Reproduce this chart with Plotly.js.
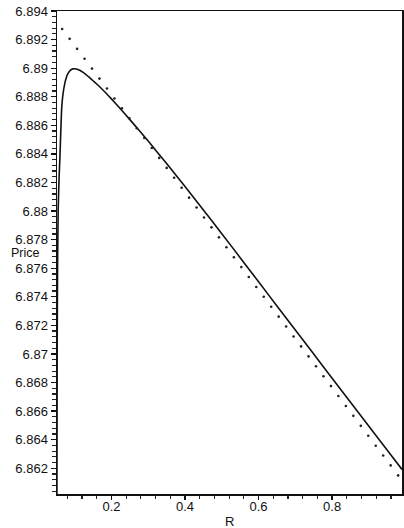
<!DOCTYPE html>
<html>
<head>
<meta charset="utf-8">
<script src="https://cdn.plot.ly/plotly-3.0.1.min.js"></script>
<style>html,body{margin:0;padding:0;background:#fff;}#chart{width:404px;height:528px;}</style>
</head>
<body>
<div id="chart"></div>
<script>
// Solid curve (Price vs R)
const solidR = [0.0518, 0.0525, 0.0535, 0.0552, 0.0575, 0.0600, 0.0625, 0.0645, 0.0680, 0.0735, 0.0775, 0.0816, 0.0860, 0.0900, 0.0950, 0.1000, 0.1070, 0.1140, 0.1220, 0.1300, 0.1400, 0.1500, 0.1600, 0.1700, 0.1850, 0.2000, 0.2200, 0.2500, 0.2750, 0.3000, 0.3500, 0.4000, 0.4500, 0.5000, 0.5500, 0.6000, 0.6500, 0.7000, 0.7500, 0.8000, 0.8500, 0.9000, 0.9500, 0.9900];
const solidP = [6.8602, 6.8700, 6.8760, 6.8801, 6.8822, 6.8838, 6.8857, 6.8871, 6.88813, 6.88897, 6.88935, 6.88961, 6.88979, 6.88989, 6.88995, 6.88996, 6.88993, 6.88985, 6.88972, 6.88957, 6.88935, 6.88912, 6.88889, 6.88865, 6.88826, 6.88785, 6.88728, 6.88640, 6.88566, 6.88490, 6.88332, 6.88172, 6.88008, 6.87842, 6.87674, 6.87505, 6.87336, 6.87167, 6.86999, 6.86830, 6.86662, 6.86494, 6.86326, 6.86192];
// Dotted series
const dotR = [0.066, 0.0863, 0.1066, 0.1269, 0.1472, 0.1675, 0.1878, 0.2081, 0.2284, 0.2487, 0.269, 0.2893, 0.3096, 0.3299, 0.3502, 0.3705, 0.3908, 0.4111, 0.4314, 0.4517, 0.472, 0.4923, 0.5126, 0.5329, 0.5532, 0.5735, 0.5938, 0.6141, 0.6344, 0.6547, 0.675, 0.6953, 0.7156, 0.7359, 0.7562, 0.7765, 0.7968, 0.8171, 0.8374, 0.8577, 0.878, 0.8983, 0.9186, 0.9389, 0.9592, 0.9795];
const dotP = [6.89274, 6.89205, 6.89135, 6.89066, 6.88997, 6.88927, 6.88858, 6.88788, 6.88719, 6.88649, 6.88580, 6.88511, 6.88441, 6.88372, 6.88302, 6.88233, 6.88163, 6.88094, 6.88025, 6.87955, 6.87886, 6.87816, 6.87747, 6.87677, 6.87608, 6.87539, 6.87469, 6.87400, 6.87330, 6.87261, 6.87192, 6.87122, 6.87053, 6.86983, 6.86914, 6.86844, 6.86775, 6.86706, 6.86636, 6.86567, 6.86497, 6.86428, 6.86358, 6.86289, 6.86220, 6.86150];
const xTitle = 'R';
const yTitle = 'Price';

const font = {family: 'Liberation Sans, Arial, sans-serif', size: 13, color: '#111'};

const traces = [
  {x: solidR, y: solidP, mode: 'lines', line: {color: '#111', width: 1.6, shape: 'spline', smoothing: 0.4}, hoverinfo: 'skip'},
  {x: dotR, y: dotP, mode: 'markers', marker: {color: '#222', size: 2.6}, hoverinfo: 'skip'}
];

const layout = {
  width: 404, height: 528,
  margin: {l: 57, r: 2, t: 11, b: 34},
  paper_bgcolor: '#fff', plot_bgcolor: '#fff',
  showlegend: false,
  font: font,
  xaxis: {
    range: [0.052, 0.99], showgrid: false, zeroline: false,
    showline: true, linecolor: '#111', linewidth: 1.5, mirror: true,
    tickmode: 'linear', tick0: 0, dtick: 0.2,
    ticks: 'outside', ticklen: 4, tickwidth: 1.3, tickcolor: '#111',
    ticklabelstandoff: -4,
    minor: {ticks: 'outside', dtick: 0.04, tick0: 0, ticklen: 3, tickwidth: 1.2, tickcolor: '#222', showgrid: false},
    tickfont: font
  },
  yaxis: {
    range: [6.8602, 6.894], showgrid: false, zeroline: false,
    showline: true, linecolor: '#111', linewidth: 1.5, mirror: true,
    tickmode: 'linear', tick0: 6.862, dtick: 0.002,
    ticks: 'outside', ticklen: 5, tickwidth: 1.3, tickcolor: '#111',
    minor: {ticks: 'outside', dtick: 0.0004, tick0: 6.862, ticklen: 4, tickwidth: 1.2, tickcolor: '#222', showgrid: false},
    tickfont: font
  },
  annotations: [
    {text: yTitle, xref: 'paper', yref: 'paper', x: -0.136, y: 0.5, xanchor: 'left', yanchor: 'middle', showarrow: false, borderpad: 0, font: {family: font.family, size: 12.5, color: '#111'}},
    {text: xTitle, xref: 'paper', yref: 'paper', x: 0.501, y: -0.056, xanchor: 'center', yanchor: 'middle', showarrow: false, borderpad: 0, font: font}
  ]
};

Plotly.newPlot('chart', traces, layout, {staticPlot: true, displayModeBar: false});
</script>
</body>
</html>
